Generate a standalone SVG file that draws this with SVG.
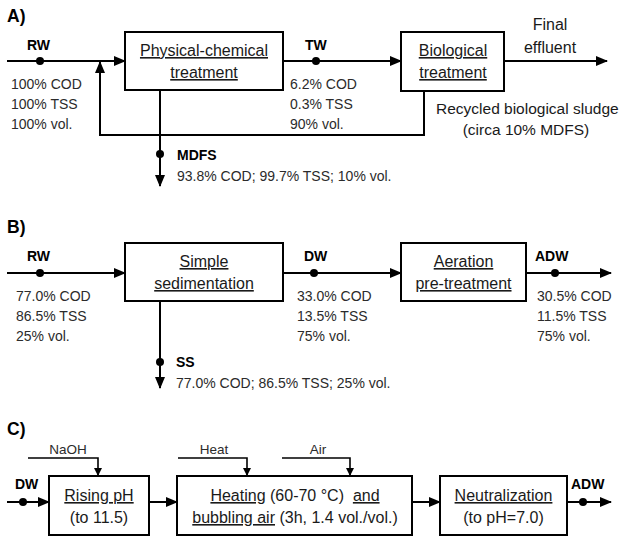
<svg xmlns="http://www.w3.org/2000/svg" width="620" height="537" viewBox="0 0 620 537">
  <defs>
    <marker id="arrow" markerUnits="userSpaceOnUse" markerWidth="12" markerHeight="10" viewBox="0 0 12 10" refX="11" refY="5" orient="auto">
      <path d="M0,0 L12,5 L0,10 z" fill="#000"/>
    </marker>
    <marker id="arrow-sm" markerUnits="userSpaceOnUse" markerWidth="8" markerHeight="8" viewBox="0 0 8 8" refX="8" refY="4" orient="auto">
      <path d="M0,0 L8,4 L0,8 z" fill="#000"/>
    </marker>
  </defs>
  <style>
    text { font-family: "Liberation Sans", Arial, sans-serif; fill: #2b2b2b; }
    .box { fill: #fff; stroke: #000; stroke-width: 2; }
    .name { font-size: 16px; text-anchor: middle; fill: #1a1a1a; }
    .data { font-size: 14px; }
    .tag { font-size: 14px; font-weight: bold; fill: #000; }
    .panel { font-size: 17.5px; font-weight: bold; fill: #000; }
    .note { font-size: 15.5px; fill: #1a1a1a; }
    .input { font-size: 13.5px; text-anchor: middle; }
    .u { text-decoration: underline; }
    .flow { fill: none; stroke: #000; stroke-width: 2; }
    .flow-sm { fill: none; stroke: #000; stroke-width: 1.6; }
    .dot { fill: #000; }
  </style>

  <!-- panel captions -->
  <text class="panel" x="7" y="22">A)</text>
  <text class="panel" x="7" y="233">B)</text>
  <text class="panel" x="7" y="435">C)</text>

  <!-- connectors -->
  <g id="connectors">
    <!-- panel A -->
    <path class="flow" d="M7,61 H125" marker-end="url(#arrow)"/>
    <path class="flow" d="M283,61 H401" marker-end="url(#arrow)"/>
    <path class="flow" d="M504,61 H607" marker-end="url(#arrow)"/>
    <path class="flow" d="M424,91 V135 H100 V62" marker-end="url(#arrow)"/>
    <path class="flow" d="M160,90 V186" marker-end="url(#arrow)"/>
    <!-- panel B -->
    <path class="flow" d="M7,273 H125" marker-end="url(#arrow)"/>
    <path class="flow" d="M283,273 H401" marker-end="url(#arrow)"/>
    <path class="flow" d="M526,273 H611" marker-end="url(#arrow)"/>
    <path class="flow" d="M160,301 V388" marker-end="url(#arrow)"/>
    <!-- panel C -->
    <path class="flow" d="M7,502 H49" marker-end="url(#arrow)"/>
    <path class="flow" d="M149,502 H177" marker-end="url(#arrow)"/>
    <path class="flow" d="M412,502 H440" marker-end="url(#arrow)"/>
    <path class="flow" d="M567,502 H611" marker-end="url(#arrow)"/>
    <path class="flow-sm" d="M28,458 H98 V476" marker-end="url(#arrow-sm)"/>
    <path class="flow-sm" d="M178,458 H247 V476" marker-end="url(#arrow-sm)"/>
    <path class="flow-sm" d="M282,458 H350 V476" marker-end="url(#arrow-sm)"/>
    <!-- stream sampling points -->
    <circle class="dot" cx="40" cy="61" r="4"/>
    <circle class="dot" cx="316" cy="61" r="4"/>
    <circle class="dot" cx="160" cy="154" r="4"/>
    <circle class="dot" cx="40" cy="273" r="4"/>
    <circle class="dot" cx="314" cy="273" r="4"/>
    <circle class="dot" cx="555" cy="273" r="4"/>
    <circle class="dot" cx="160" cy="362" r="4"/>
    <circle class="dot" cx="23" cy="502" r="4"/>
    <circle class="dot" cx="583" cy="502" r="4"/>
  </g>

  <!-- panel A: units -->
  <g id="physical-chemical">
    <rect class="box" x="125" y="32" width="158" height="58"/>
    <text class="name" x="204" y="56"><tspan class="u">Physical-chemical</tspan></text>
    <text class="name" x="204" y="78"><tspan class="u">treatment</tspan></text>
  </g>
  <g id="biological">
    <rect class="box" x="401" y="32" width="103" height="59"/>
    <text class="name" x="453" y="56"><tspan class="u">Biological</tspan></text>
    <text class="name" x="453" y="78"><tspan class="u">treatment</tspan></text>
  </g>

  <!-- panel A: streams -->
  <g id="a-rw">
    <text class="tag" x="27" y="50">RW</text>
    <text class="data" x="11" y="89">100% COD</text>
    <text class="data" x="11" y="109">100% TSS</text>
    <text class="data" x="11" y="129">100% vol.</text>
  </g>
  <g id="a-tw">
    <text class="tag" x="305" y="50">TW</text>
    <text class="data" x="290" y="89">6.2% COD</text>
    <text class="data" x="290" y="109">0.3% TSS</text>
    <text class="data" x="290" y="129">90% vol.</text>
  </g>
  <g id="a-mdfs">
    <text class="tag" x="177" y="160">MDFS</text>
    <text class="data" x="177" y="181">93.8% COD; 99.7% TSS; 10% vol.</text>
  </g>
  <g id="a-effluent">
    <text class="name" x="550" y="30">Final</text>
    <text class="name" x="550" y="53">effluent</text>
  </g>
  <g id="a-recycle">
    <text class="note" x="436" y="114">Recycled biological sludge</text>
    <text class="note" x="526" y="135" text-anchor="middle">(circa 10% MDFS)</text>
  </g>

  <!-- panel B: units -->
  <g id="sedimentation">
    <rect class="box" x="125" y="243" width="158" height="58"/>
    <text class="name" x="204" y="267"><tspan class="u">Simple</tspan></text>
    <text class="name" x="204" y="289"><tspan class="u">sedimentation</tspan></text>
  </g>
  <g id="aeration">
    <rect class="box" x="401" y="243" width="125" height="58"/>
    <text class="name" x="463.5" y="267"><tspan class="u">Aeration</tspan></text>
    <text class="name" x="463.5" y="289"><tspan class="u">pre-treatment</tspan></text>
  </g>

  <!-- panel B: streams -->
  <g id="b-rw">
    <text class="tag" x="27" y="261">RW</text>
    <text class="data" x="16" y="301">77.0% COD</text>
    <text class="data" x="16" y="321">86.5% TSS</text>
    <text class="data" x="16" y="341">25% vol.</text>
  </g>
  <g id="b-dw">
    <text class="tag" x="304" y="261">DW</text>
    <text class="data" x="297" y="301">33.0% COD</text>
    <text class="data" x="297" y="321">13.5% TSS</text>
    <text class="data" x="297" y="341">75% vol.</text>
  </g>
  <g id="b-adw">
    <text class="tag" x="535" y="261">ADW</text>
    <text class="data" x="537" y="301">30.5% COD</text>
    <text class="data" x="537" y="321">11.5% TSS</text>
    <text class="data" x="537" y="341">75% vol.</text>
  </g>
  <g id="b-ss">
    <text class="tag" x="176" y="367">SS</text>
    <text class="data" x="176" y="388">77.0% COD; 86.5% TSS; 25% vol.</text>
  </g>

  <!-- panel C: units -->
  <g id="rising-ph">
    <rect class="box" x="49" y="476" width="100" height="59"/>
    <text class="name" x="99" y="501"><tspan class="u">Rising pH</tspan></text>
    <text class="name" x="99" y="523">(to 11.5)</text>
  </g>
  <g id="heating">
    <rect class="box" x="177" y="476" width="235" height="59"/>
    <text class="name" x="295" y="501" xml:space="preserve"><tspan class="u">Heating</tspan> (60-70 °C)  <tspan class="u">and</tspan></text>
    <text class="name" x="295" y="523"><tspan class="u">bubbling air</tspan> (3h, 1.4 vol./vol.)</text>
  </g>
  <g id="neutralization">
    <rect class="box" x="440" y="476" width="127" height="59"/>
    <text class="name" x="503.5" y="501"><tspan class="u">Neutralization</tspan></text>
    <text class="name" x="503.5" y="523">(to pH=7.0)</text>
  </g>

  <!-- panel C: streams and dosing inputs -->
  <g id="c-dw"><text class="tag" x="15" y="489">DW</text></g>
  <g id="c-adw"><text class="tag" x="571" y="489">ADW</text></g>
  <g id="c-naoh"><text class="input" x="68" y="454">NaOH</text></g>
  <g id="c-heat"><text class="input" x="214" y="454">Heat</text></g>
  <g id="c-air"><text class="input" x="318" y="454">Air</text></g>
</svg>
